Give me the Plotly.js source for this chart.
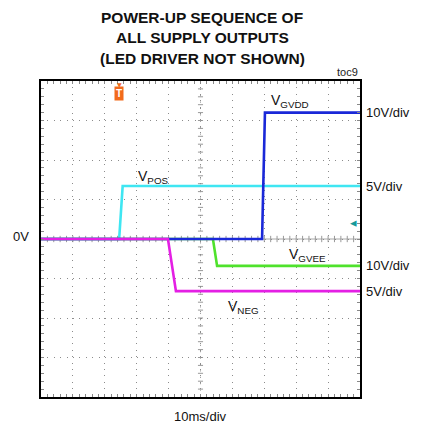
<!DOCTYPE html>
<html>
<head>
<meta charset="utf-8">
<script src="https://cdn.plot.ly/plotly-3.0.1.min.js"></script>
<style>
  html, body { margin: 0; padding: 0; background: #fff; }
  #plot { width: 423px; height: 426px; }
</style>
</head>
<body>
<div id="plot"></div>
<script>
// Scope capture: time in ms (10 ms/div, 10 divisions), voltages in volts.
const timeVPOS   = [0, 24.5, 25.6, 100];
const voltsVPOS  = [0, 0, 6.7, 6.7];
const timeVNEG   = [0, 39.8, 42.3, 100];
const voltsVNEG  = [0, 0, -6.6, -6.6];
const timeVGVEE  = [0, 53.9, 55.2, 100];
const voltsVGVEE = [0, 0, -6.8, -6.8];
const timeVGVDD  = [0, 69.3, 70.2, 100];
const voltsVGVDD = [0, 0, 32, 32];

// Vertical scale of each channel (V/div)
const scaleVPOS = 5, scaleVNEG = 5, scaleVGVEE = 10, scaleVGVDD = 10;

const channelLabels = ['10V/div', '5V/div', '10V/div', '5V/div'];
const titleLines = ['POWER-UP SEQUENCE OF', 'ALL SUPPLY OUTPUTS', '(LED DRIVER NOT SHOWN)'];

const toDiv = (v, s) => v.map(x => x / s);

const sans = 'Liberation Sans, Arial, sans-serif';

function trace(x, y, color) {
  return { x: x, y: y, type: 'scatter', mode: 'lines',
           line: { color: color, width: 2.6 }, hoverinfo: 'skip', showlegend: false };
}

const data = [
  trace(timeVPOS, toDiv(voltsVPOS, scaleVPOS), '#3fe6f2'),
  trace(timeVGVEE, toDiv(voltsVGVEE, scaleVGVEE), '#4fe22c'),
  trace(timeVGVDD, toDiv(voltsVGVDD, scaleVGVDD), '#1a28d8'),
  trace(timeVNEG, toDiv(voltsVNEG, scaleVNEG), '#e41fe4')
];

// Centre crosshair with minor ticks (5 per division)
const shapes = [];
const gridGray = '#8c8c8c';
const gridDash = '1px,5.4px';
shapes.push({ type: 'line', xref: 'x', yref: 'paper', x0: 50, x1: 50, y0: 0, y1: 1,
              line: { color: gridGray, width: 1, dash: gridDash }, layer: 'below' });
shapes.push({ type: 'line', xref: 'paper', yref: 'y', x0: 0, x1: 1, y0: 0, y1: 0,
              line: { color: '#a8a8a8', width: 1 }, layer: 'below' });
for (let t = 2; t < 100; t += 2) {
  shapes.push({ type: 'line', xref: 'x', yref: 'y', x0: t, x1: t, y0: -0.08, y1: 0.08,
                line: { color: '#999', width: 1 }, layer: 'below' });
}
for (let d = -3.8; d < 4; d += 0.2) {
  shapes.push({ type: 'line', xref: 'x', yref: 'y', x0: 49.2, x1: 50.8, y0: d, y1: d,
                line: { color: '#999', width: 1 }, layer: 'below' });
}

const annotations = [];
// Title
titleLines.forEach((s, i) => {
  annotations.push({ text: '<b>' + s + '</b>', xref: 'paper', yref: 'paper',
    x: 0.505, y: 1, yshift: 64 - i * 20.5, xanchor: 'center', yanchor: 'middle',
    showarrow: false, font: { family: sans, size: 15.5, color: '#111' } });
});
annotations.push({ text: 'toc9', xref: 'paper', yref: 'paper', x: 1, y: 1, yshift: 9,
  xanchor: 'right', yanchor: 'middle', showarrow: false,
  font: { family: sans, size: 11, color: '#222' } });

// Channel scale labels at each trace's final level
const levels = [
  voltsVGVDD[3] / scaleVGVDD, voltsVPOS[3] / scaleVPOS,
  voltsVGVEE[3] / scaleVGVEE, voltsVNEG[3] / scaleVNEG
];
channelLabels.forEach((s, i) => {
  annotations.push({ text: s, xref: 'paper', yref: 'y', x: 1, y: levels[i], xshift: 4,
    xanchor: 'left', yanchor: 'middle', showarrow: false,
    font: { family: sans, size: 13, color: '#111' } });
});
annotations.push({ text: '0V', xref: 'paper', yref: 'y', x: 0, y: 0, xshift: -10, yshift: 3,
  xanchor: 'right', yanchor: 'middle', showarrow: false,
  font: { family: sans, size: 13, color: '#111' } });

// Trace names
const names = [
  { t: 'V<sub>GVDD</sub>', x: 78,   y: levels[0] + 0.3 },
  { t: 'V<sub>POS</sub>',  x: 35,   y: levels[1] + 0.22 },
  { t: 'V<sub>GVEE</sub>', x: 83.4, y: levels[2] + 0.27 },
  { t: 'V<sub>NEG</sub>',  x: 63.6, y: levels[3] - 0.4 }
];
names.forEach(n => {
  annotations.push({ text: n.t, xref: 'x', yref: 'y', x: n.x, y: n.y,
    xanchor: 'center', yanchor: 'middle', showarrow: false,
    font: { family: sans, size: 14, color: '#111' } });
});

// Trigger marker and ground reference arrow
annotations.push({ text: '<b>T</b>', xref: 'x', yref: 'paper', x: timeVPOS[1], y: 1, yshift: -12,
  xanchor: 'center', yanchor: 'middle', showarrow: false, bgcolor: '#f26a1b',
  borderpad: 1, font: { family: sans, size: 10, color: '#fff' } });
annotations.push({ text: '▼', xref: 'x', yref: 'paper', x: timeVPOS[1], y: 1, yshift: -3,
  xanchor: 'center', yanchor: 'middle', showarrow: false,
  font: { family: 'DejaVu Sans', size: 6, color: '#f26a1b' } });
annotations.push({ text: '◂', xref: 'paper', yref: 'y', x: 1, y: 0.43, xshift: -1,
  xanchor: 'right', yanchor: 'middle', showarrow: false,
  font: { family: 'DejaVu Sans', size: 13, color: '#169a9a' } });
// Time base label
annotations.push({ text: '10ms/div', xref: 'paper', yref: 'paper', x: 0.5, y: 0, yshift: -19,
  xanchor: 'center', yanchor: 'middle', showarrow: false,
  font: { family: sans, size: 13, color: '#111' } });

const axisCommon = {
  showticklabels: false, showline: true, linecolor: '#000', linewidth: 2, mirror: 'ticks',
  ticks: 'inside', ticklen: 3, tickcolor: '#888', zeroline: false, fixedrange: true,
  showgrid: true, gridcolor: gridGray, griddash: gridDash, gridwidth: 1
};

const layout = {
  width: 423, height: 426,
  margin: { l: 41, r: 63, t: 81, b: 29 },
  paper_bgcolor: '#fff', plot_bgcolor: '#fff',
  xaxis: Object.assign({}, axisCommon, { range: [0, 100], dtick: 10, tick0: 0,
    minor: { dtick: 2, ticks: 'inside', ticklen: 3, tickcolor: '#888', showgrid: false } }),
  yaxis: Object.assign({}, axisCommon, { range: [-4, 4], dtick: 1, tick0: 0,
    minor: { dtick: 0.2, ticks: 'inside', ticklen: 3, tickcolor: '#888', showgrid: false } }),
  shapes: shapes,
  annotations: annotations
};

Plotly.newPlot('plot', data, layout, { staticPlot: true, displayModeBar: false });
</script>
</body>
</html>
